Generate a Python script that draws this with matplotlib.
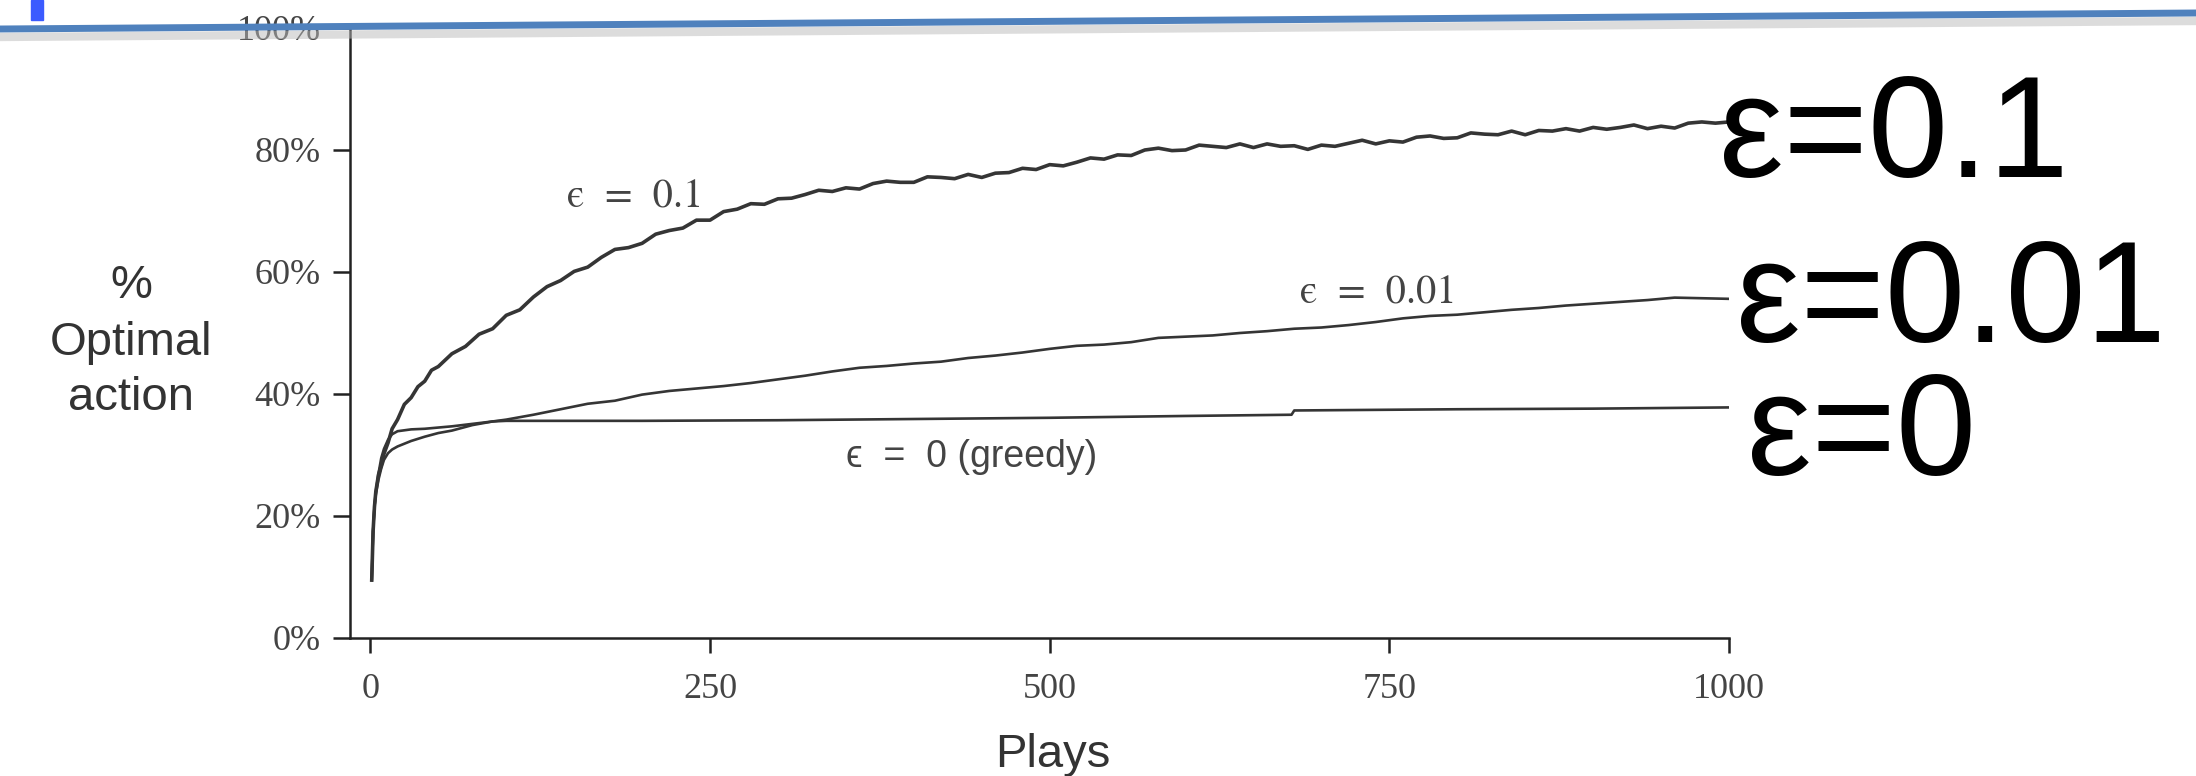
import matplotlib
matplotlib.use('Agg')
import matplotlib.pyplot as plt
from matplotlib.lines import Line2D
from matplotlib.patches import Rectangle

# % optimal action vs plays
plays_start = [1, 2, 3, 4, 6, 8, 10, 13, 16, 20, 25, 30, 35, 40, 45, 50, 60, 70, 80, 90]
eps_high_start = [9.5, 17.5, 21.5, 24.0, 26.8, 28.3, 30.2, 32.0, 34.3, 35.8,
                  38.3, 39.4, 41.2, 42.1, 43.9, 44.5, 46.6, 47.8, 49.8, 50.7]
plays_high_rest = list(range(100, 1001, 10))
eps_high_rest = [52.9, 53.8, 55.9, 57.6, 58.6, 60.1, 60.8, 62.4, 63.7, 64.0,
                 64.7, 66.2, 66.8, 67.2, 68.5, 68.5, 69.9, 70.3, 71.2, 71.1,
                 72.0, 72.1, 72.7, 73.4, 73.2, 73.8, 73.6, 74.5, 74.9, 74.7,
                 74.7, 75.6, 75.5, 75.3, 76.0, 75.5, 76.2, 76.3, 77.0, 76.8,
                 77.6, 77.4, 78.0, 78.7, 78.5, 79.2, 79.1, 80.0, 80.3, 79.9,
                 80.0, 80.8, 80.6, 80.4, 81.0, 80.4, 81.0, 80.6, 80.7, 80.1,
                 80.8, 80.6, 81.1, 81.6, 81.0, 81.5, 81.3, 82.1, 82.3, 81.9,
                 82.0, 82.8, 82.6, 82.5, 83.1, 82.5, 83.2, 83.1, 83.5, 83.1,
                 83.7, 83.4, 83.7, 84.1, 83.5, 83.9, 83.6, 84.4, 84.6, 84.4,
                 84.6]

plays_mid_start = [1, 2, 3, 4, 6, 8, 10, 13, 16, 20, 30, 40, 50, 60, 75, 90]
eps_mid_start = [9.5, 17.5, 21.5, 23.5, 26.0, 27.8, 29.2, 30.3, 30.9, 31.4,
                 32.3, 33.0, 33.6, 34.0, 34.9, 35.5]
plays_mid_rest = list(range(100, 1001, 20))
eps_mid_rest = [35.8, 36.6, 37.5, 38.4, 38.9, 39.9, 40.5, 40.9, 41.3, 41.8,
                42.4, 43.0, 43.7, 44.3, 44.6, 45.0, 45.3, 45.9, 46.3, 46.8,
                47.4, 47.9, 48.1, 48.5, 49.2, 49.4, 49.6, 50.0, 50.3, 50.7,
                50.9, 51.3, 51.8, 52.4, 52.8, 53.0, 53.4, 53.8, 54.1, 54.5,
                54.8, 55.1, 55.4, 55.8, 55.7, 55.6]

plays_greedy = [1, 2, 3, 4, 6, 8, 10, 13, 16, 20, 30, 40, 50, 60, 75, 90,
                100, 200, 300, 400, 500, 600, 678, 680, 800, 900, 1000]
eps_greedy = [9.5, 17.5, 21.5, 24.0, 27.0, 29.5, 31.0, 32.5, 33.4, 33.9, 34.2,
              34.3, 34.5, 34.7, 35.1, 35.5, 35.6, 35.6, 35.7, 35.9, 36.1, 36.4,
              36.6, 37.3, 37.5, 37.6, 37.8]

x_ticks = [0, 250, 500, 750, 1000]
y_ticks = [0, 20, 40, 60, 80, 100]
y_tick_labels = ['0%', '20%', '40%', '60%', '80%', '100%']

W, H = 2196, 776
fig = plt.figure(figsize=(W / 100, H / 100), dpi=100)
ax = fig.add_axes([350 / W, 1 - 638 / H, (1729 - 350) / W, (638 - 28) / H])

line_col = '#353535'
ax.plot(plays_start + plays_high_rest, eps_high_start + eps_high_rest,
        color=line_col, lw=2.6, zorder=3)
ax.plot(plays_mid_start + plays_mid_rest, eps_mid_start + eps_mid_rest,
        color=line_col, lw=1.9, zorder=2)
ax.plot(plays_greedy, eps_greedy, color=line_col, lw=1.9, zorder=2)

ax.set_xlim(-15, 1000)
ax.set_ylim(0, 100)
ax.set_xticks(x_ticks)
ax.set_xticklabels([str(t) for t in x_ticks])
ax.set_yticks(y_ticks)
ax.set_yticklabels(y_tick_labels)

for side in ['top', 'right']:
    ax.spines[side].set_visible(False)
for side in ['left', 'bottom']:
    ax.spines[side].set_linewidth(1.8)
    ax.spines[side].set_color('#222222')

ax.tick_params(axis='both', direction='out', width=1.8, color='#222222',
               labelcolor='#444444')
ax.tick_params(axis='y', length=12, pad=9)
ax.tick_params(axis='x', length=11, pad=14)
for lab in ax.get_xticklabels() + ax.get_yticklabels():
    lab.set_fontfamily('Liberation Serif')
    lab.set_fontsize(26)

# curve annotations in the plot (lunate epsilon as in the book)
note_col = '#444444'
serif = ['STIXGeneral', 'Liberation Serif', 'DejaVu Serif']
ax.text(145, 70.5, '\u03f5  =  0.1', fontsize=29, color=note_col, family=serif,
        ha='left', va='baseline')
ax.text(684, 54.9, '\u03f5  =  0.01', fontsize=29, color=note_col, family=serif,
        ha='left', va='baseline')
ax.text(350, 28.0, '\u03f5  =  0 (greedy)', fontsize=27, color=note_col,
        family=['Liberation Sans', 'STIXGeneral', 'DejaVu Sans'],
        ha='left', va='baseline')

# axis titles
sans = 'Liberation Sans'
fig.text(131 / W, 1 - 298 / H, '%', fontsize=34, family=sans, color='#333333',
         ha='center', va='baseline')
fig.text(131 / W, 1 - 355 / H, 'Optimal', fontsize=34, family=sans, color='#333333',
         ha='center', va='baseline')
fig.text(131 / W, 1 - 410 / H, 'action', fontsize=34, family=sans, color='#333333',
         ha='center', va='baseline')
fig.text(1053 / W, 1 - 767 / H, 'Plays', fontsize=34, family=sans, color='#333333',
         ha='center', va='baseline')

# large slide labels at the right
for label, x0, base in [('ε=0.1', 1719, 177), ('ε=0.01', 1736, 342), ('ε=0', 1747, 475)]:
    fig.text(x0 / W, 1 - base / H, label, fontsize=104, family=sans, color='black',
             ha='left', va='baseline')

# slide header rule with its shadow, and the title fragment
fig.add_artist(Line2D([0, 1], [1 - 37 / H, 1 - 21 / H], transform=fig.transFigure,
                      color='#bbbbbb', lw=6, alpha=0.5, zorder=10))
fig.add_artist(Line2D([0, 1], [1 - 29 / H, 1 - 13 / H], transform=fig.transFigure,
                      color='#4F81BD', lw=5, zorder=11))
fig.add_artist(Rectangle((31 / W, 1 - 20 / H), 12 / W, 20 / H, transform=fig.transFigure,
                         color='#3B5BFF', zorder=12))

fig.savefig('out.png', dpi=100)
